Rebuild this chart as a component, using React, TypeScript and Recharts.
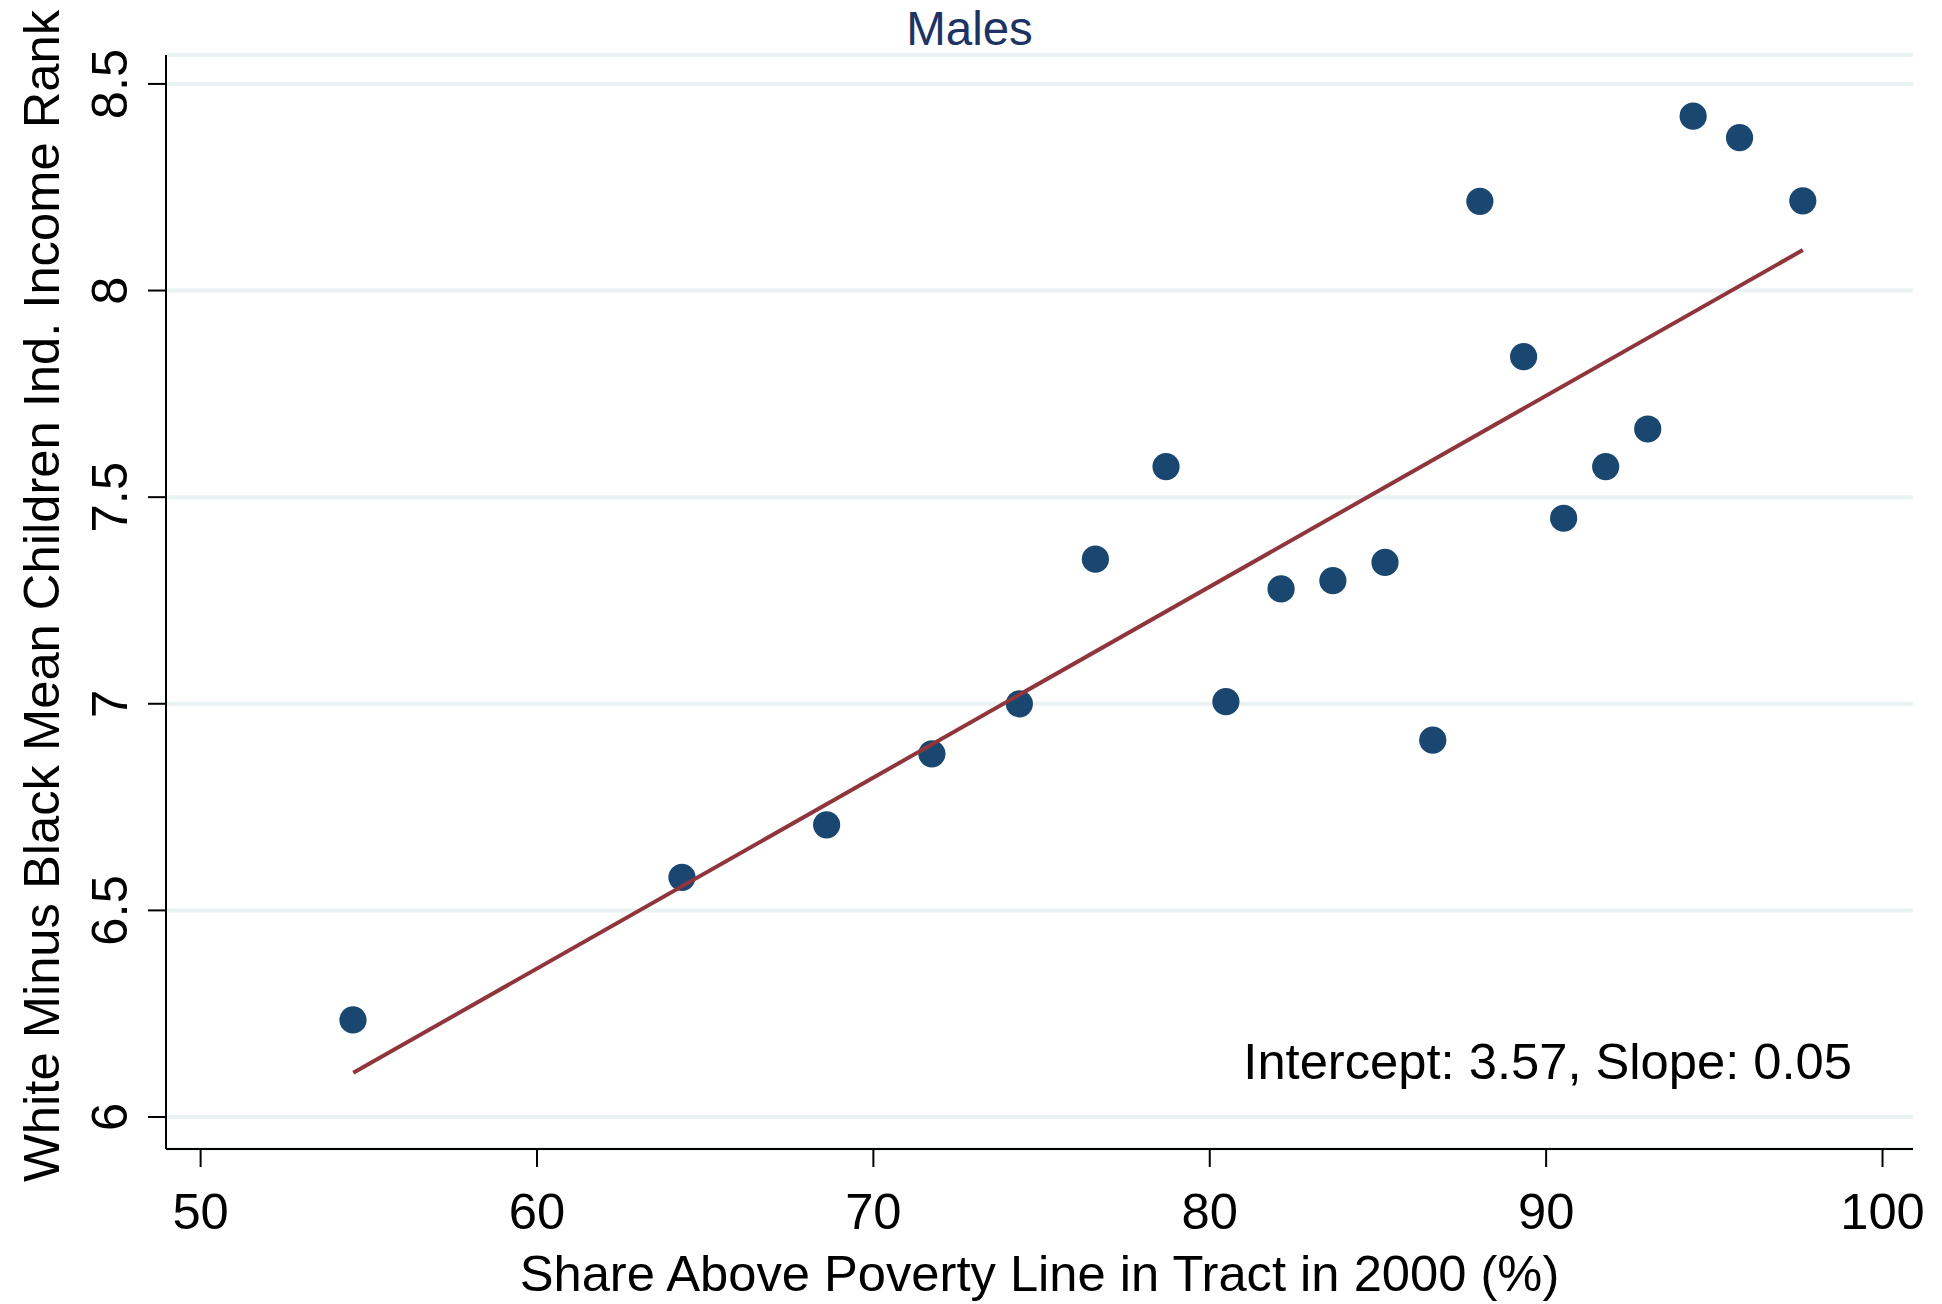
import React from "react";
import { CartesianGrid, Scatter, ScatterChart, XAxis, YAxis } from "recharts";

const shareAbovePoverty = [
  54.53, 64.31, 68.61, 71.74, 74.34, 76.6, 78.7, 80.48, 82.12, 83.66, 85.21,
  86.63, 88.03, 89.33, 90.52, 91.77, 93.02, 94.37, 95.75, 97.63,
];
const rankGap = [
  6.235, 6.58, 6.707, 6.879, 7.0, 7.35, 7.574, 7.005, 7.278, 7.298, 7.342,
  6.912, 8.216, 7.84, 7.449, 7.574, 7.665, 8.422, 8.37, 8.217,
];
const fitX = [54.54, 97.63];
const fitY = [6.107, 8.098];

const xTicks = [50, 60, 70, 80, 90, 100];
const yTicks = [6, 6.5, 7, 7.5, 8, 8.5];

const points = shareAbovePoverty.map((x, i) => ({ x, y: rankGap[i] }));
const fitLine = fitX.map((x, i) => ({ x, y: fitY[i] }));

const FONT = '"Liberation Sans", Arial, Helvetica, sans-serif';
const FS = 50.7;
const DOT = "#1a476f";
const LINE = "#90353b";

const XTick = (props: any) => {
  const { x, y, payload } = props;
  return (
    <text x={x} y={y + 62} textAnchor="middle" fontSize={FS} fontFamily={FONT} fill="#000">
      {payload.value}
    </text>
  );
};

const YTick = (props: any) => {
  const { x, y, payload } = props;
  const tx = x - 21;
  return (
    <text
      x={tx}
      y={y}
      transform={`rotate(-90, ${tx}, ${y})`}
      textAnchor="middle"
      fontSize={FS}
      fontFamily={FONT}
      fill="#000"
    >
      {payload.value}
    </text>
  );
};

const Dot = (props: any) => <circle cx={props.cx} cy={props.cy} r={13.6} fill={DOT} />;

export default function App() {
  return (
    <div style={{ position: "absolute", left: 0, top: 0, width: 1942, height: 1304, background: "#fff" }}>
      <ScatterChart
        width={1942}
        height={1304}
        margin={{ top: 55, right: 29, left: 0, bottom: 0 }}
      >
        <CartesianGrid horizontal vertical={false} stroke="#eaf2f3" strokeWidth={4} />
        <XAxis
          type="number"
          dataKey="x"
          domain={[48.971, 100.906]}
          ticks={xTicks}
          allowDataOverflow
          height={155}
          tickSize={18}
          tickMargin={0}
          tick={<XTick />}
          axisLine={{ stroke: "#000", strokeWidth: 2 }}
          tickLine={{ stroke: "#000", strokeWidth: 2 }}
          label={{
            content: () => (
              <text x={1039.5} y={1291} textAnchor="middle" fontSize={FS} fontFamily={FONT} fill="#000">
                Share Above Poverty Line in Tract in 2000 (%)
              </text>
            ),
          }}
        />
        <YAxis
          type="number"
          dataKey="y"
          domain={[5.9226, 8.57]}
          ticks={yTicks}
          allowDataOverflow
          width={166}
          tickSize={18}
          tickMargin={0}
          tick={<YTick />}
          axisLine={{ stroke: "#000", strokeWidth: 2 }}
          tickLine={{ stroke: "#000", strokeWidth: 2 }}
          label={{
            content: () => (
              <text
                x={59}
                y={596}
                transform="rotate(-90, 59, 596)"
                textAnchor="middle"
                fontSize={FS}
                fontFamily={FONT}
                fill="#000"
              >
                White Minus Black Mean Children Ind. Income Rank
              </text>
            ),
          }}
        />
        <Scatter data={points} shape={<Dot />} isAnimationActive={false} />
        <Scatter
          data={fitLine}
          line={{ stroke: LINE, strokeWidth: 4 }}
          shape={() => <g />}
          isAnimationActive={false}
        />
      </ScatterChart>
      <svg
        width={1942}
        height={1304}
        style={{ position: "absolute", left: 0, top: 0, pointerEvents: "none" }}
      >
        <text x={969.5} y={45} textAnchor="middle" fontSize={47.5} fontFamily={FONT} fill="#1c3363">
          Males
        </text>
        <text x={1852} y={1079} textAnchor="end" fontSize={FS} fontFamily={FONT} fill="#000">
          Intercept: 3.57, Slope: 0.05
        </text>
      </svg>
    </div>
  );
}
